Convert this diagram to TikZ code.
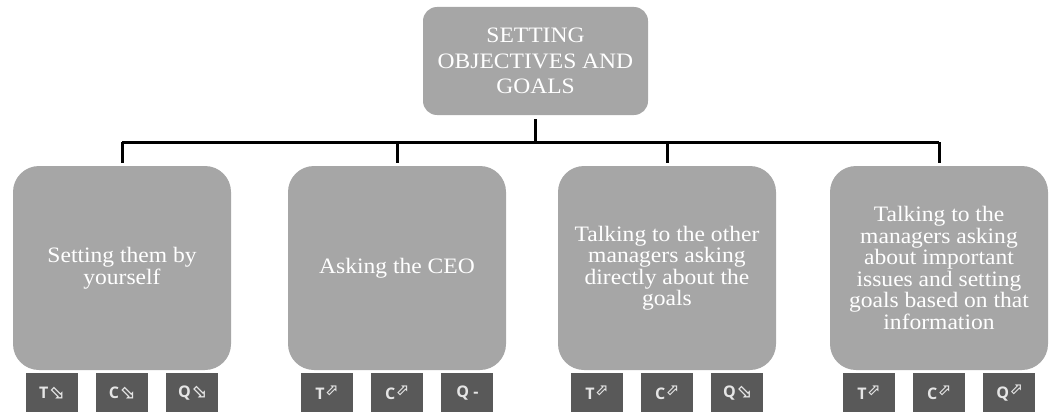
\documentclass[tikz,border=0pt]{standalone}
\usepackage{fontspec}
\setmainfont{Liberation Serif}[FakeStretch=1.07]
\newfontfamily\tagfont{Open Sans}
\newfontfamily\symfont{DejaVu Sans}
\usetikzlibrary{positioning}
\definecolor{boxgray}{HTML}{A6A6A6}
\definecolor{taggray}{HTML}{595959}
\newcommand{\upmark}{\raisebox{0.45ex}{\symfont\fontsize{16}{16}\selectfont ⬀}}
\newcommand{\downmark}{{\symfont\fontsize{19}{19}\selectfont ⬂}}
\tikzset{
	goal/.style={rectangle, rounded corners=14pt, fill=boxgray, text=white, minimum width=225pt, minimum height=108pt, align=center, font=\fontsize{22}{25.5}\selectfont},
	way/.style={rectangle, rounded corners=26pt, fill=boxgray, text=white, minimum width=218pt, minimum height=204pt, align=center, font=\fontsize{22}{21.5}\selectfont},
	rate/.style={rectangle, fill=taggray, text=white!90!black, minimum width=52pt, minimum height=39pt, inner sep=0pt, font=\tagfont\bfseries\fontsize{16}{16}\selectfont},
	branch/.style={line width=3pt}
}

\begin{document}
\begin{tikzpicture}[x=1pt, y=-1pt]
				\useasboundingbox (0,0) rectangle (1049,412);
		
				\node[goal] (goal) at (535.5,61) {SETTING\\OBJECTIVES AND\\GOALS};
		
				\node[way] (self) at (122,268) {Setting them by\\yourself};
				\node[way] (ceo) at (397,268) {Asking the CEO};
				\node[way] (others) at (667,268) {Talking to the other\\managers asking\\directly about the\\goals};
				\node[way] (issues) at (939,268) {Talking to the\\managers asking\\about important\\issues and setting\\goals based on that\\information};
		
				% tree lines
				\coordinate (bar) at (0,142);
				\draw[branch, shorten <=4pt] (goal.south) -- (goal.south |- bar);
				\draw[branch] (bar -| self.north) -- (bar -| issues.north);
				\draw[branch, shorten >=3pt] (bar -| self.north) -- (self.north);
				\draw[branch, shorten >=3pt] (bar -| ceo.north) -- (ceo.north);
				\draw[branch, shorten >=3pt] (bar -| others.north) -- (others.north);
				\draw[branch, shorten >=3pt] (bar -| issues.north) -- (issues.north);
		
				% ratings under each way
				\node[rate, below=3pt of self] (selfC) {C\downmark};
				\node[rate, left=18pt of selfC] (selfT) {T\downmark};
				\node[rate, right=18pt of selfC] (selfQ) {Q\downmark};
		
				\node[rate, below=3pt of ceo] (ceoC) {C\upmark};
				\node[rate, left=18pt of ceoC] (ceoT) {T\upmark};
				\node[rate, right=18pt of ceoC] (ceoQ) {Q -};
		
				\node[rate, below=3pt of others] (othersC) {C\upmark};
				\node[rate, left=18pt of othersC] (othersT) {T\upmark};
				\node[rate, right=18pt of othersC] (othersQ) {Q\downmark};
		
				\node[rate, below=3pt of issues] (issuesC) {C\upmark};
				\node[rate, left=18pt of issuesC] (issuesT) {T\upmark};
				\node[rate, right=18pt of issuesC] (issuesQ) {Q\upmark};
			\end{tikzpicture}
\end{document}
